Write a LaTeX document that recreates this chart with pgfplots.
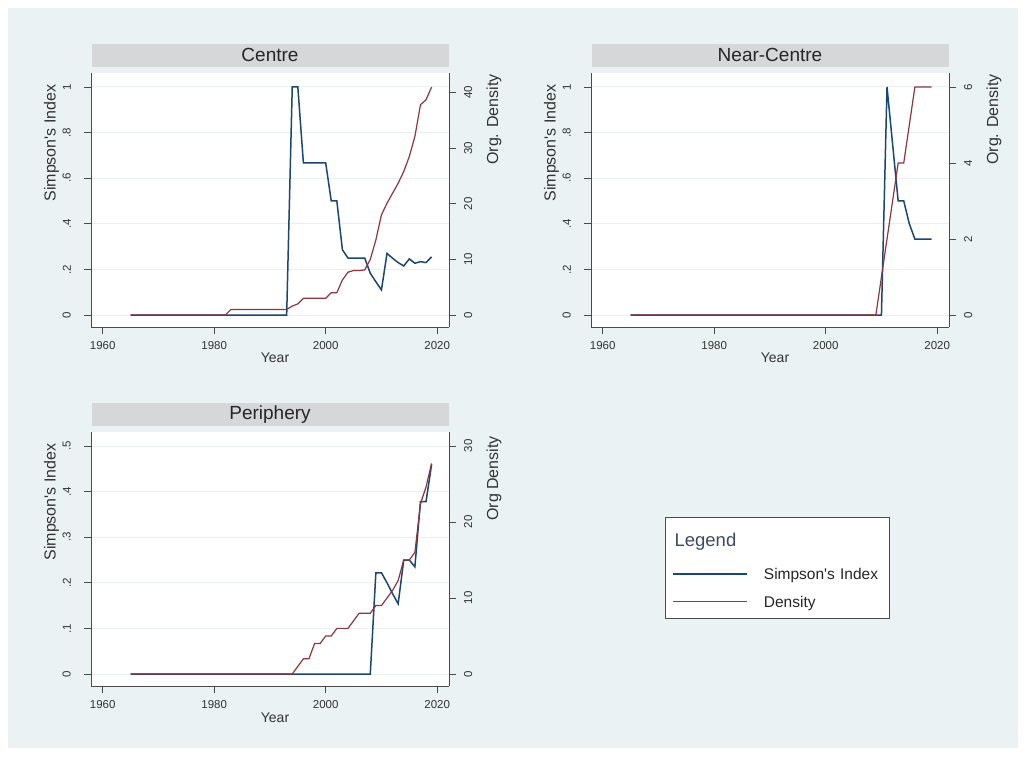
\documentclass[border=0pt]{standalone}
\usepackage{fontspec}
\setmainfont{Liberation Sans}
\usepackage{pgfplots}
\pgfplotsset{compat=1.18}
\definecolor{bgcol}{HTML}{EAF2F3}
\definecolor{barcol}{HTML}{D6D7D8}
\definecolor{gridcol}{HTML}{EAF0F2}
\definecolor{sblue}{HTML}{1A476F}
\definecolor{sred}{HTML}{90353B}
\definecolor{axcol}{HTML}{4A4A4A}
\definecolor{legtitle}{HTML}{3B4A68}
\pgfplotsset{
  base/.style={
    scale only axis, width=358pt, height=254pt, anchor=south west,
    xmin=1957.9, xmax=2022.12,
    xtick={1960,1980,2000,2020}, xticklabels={1960,1980,2000,2020},
    tick align=outside, major tick length=7pt,
    major tick style={axcol, line width=0.9pt},
    axis line style={-, axcol, line width=0.9pt},
    tick label style={font=\fontsize{11.5}{13}\selectfont, text=black!80},
    /pgf/number format/assume math mode=true,
    minor tick num=0,
  },
  leftax/.style={base,
    axis x line*=bottom, axis y line*=left,
    axis background/.style={fill=white},
    ymajorgrids, grid style={gridcol, line width=1pt},
    xticklabel style={anchor=north, inner sep=0pt},
    xticklabel shift=7pt,
    yticklabel style={rotate=90, anchor=south, inner sep=0pt},
    yticklabel shift=13pt,
    xlabel={Year},
    xlabel style={at={(axis description cs:0.514,0)}, anchor=base, yshift=-36pt, font=\fontsize{14}{16}\selectfont, text=black!80},
    ylabel style={at={(axis description cs:-0.0986,0.724)}, anchor=base, font=\fontsize{16}{18}\selectfont, text=black!80},
    title style={at={(axis description cs:0.5,1)}, anchor=south, yshift=0pt, fill=barcol, minimum width=357pt, minimum height=23pt, inner sep=0pt, font=\fontsize{19}{22}\selectfont, text=black!85},
  },
  rightax/.style={base,
    axis x line=none, axis y line*=right,
    yticklabel style={rotate=90, anchor=north, inner sep=0pt},
    yticklabel shift=8pt,
    ylabel style={at={(axis description cs:1.1369,0.817)}, anchor=base, font=\fontsize{16}{18}\selectfont, text=black!80},
  },
}
\begin{document}
\begin{tikzpicture}[x=1pt,y=1pt]
\fill[white] (0,0) rectangle (1026,756);
\fill[bgcol] (8,8) rectangle (1018,748);

% ---------------- Centre ----------------
\begin{axis}[leftax, at={(91pt,429pt)}, ymin=-0.0526, ymax=1.0614,
  ytick={0,0.2,0.4,0.6,0.8,1}, yticklabels={0,.2,.4,.6,.8,1},
  ylabel={Simpson\textquotesingle s Index}, title={Centre}]
\addplot[sblue, line width=1.5pt] coordinates {
(1965,0)(1993,0)(1994,1)(1995,1)(1996,0.667)(1997,0.667)(1998,0.667)(1999,0.667)(2000,0.667)
(2001,0.5)(2002,0.5)(2003,0.286)(2004,0.25)(2005,0.25)(2006,0.25)(2007,0.25)(2008,0.183)
(2009,0.146)(2010,0.11)(2011,0.27)(2012,0.249)(2013,0.23)(2014,0.215)(2015,0.246)(2016,0.227)
(2017,0.234)(2018,0.23)(2019,0.255)};
\end{axis}
\begin{axis}[rightax, at={(91pt,429pt)}, ymin=-2.158, ymax=43.517,
  ytick={0,10,20,30,40}, yticklabels={0,10,20,30,40},
  ylabel={Org. Density}]
\addplot[sred, line width=1.2pt] coordinates {
(1965,0)(1982,0)(1983,1)(1993,1)(1994,1.6)(1995,2)(1996,3)(1997,3)(1998,3)(1999,3)(2000,3)
(2001,4)(2002,4)(2003,6.3)(2004,7.7)(2005,8)(2006,8)(2007,8.1)(2008,10)(2009,13.5)(2010,18)
(2011,20.1)(2012,21.9)(2013,23.7)(2014,25.8)(2015,28.5)(2016,32.1)(2017,37.8)(2018,38.7)(2019,41)};
\end{axis}

% ---------------- Near-Centre ----------------
\begin{axis}[leftax, at={(591pt,429pt)}, ymin=-0.0526, ymax=1.0614,
  ytick={0,0.2,0.4,0.6,0.8,1}, yticklabels={0,.2,.4,.6,.8,1},
  ylabel={Simpson\textquotesingle s Index}, title={Near-Centre}]
\addplot[sblue, line width=1.5pt] coordinates {
(1965,0)(2010,0)(2011,1)(2012,0.75)(2013,0.5)(2014,0.5)(2015,0.4)(2016,0.333)(2017,0.333)(2018,0.333)(2019,0.333)};
\end{axis}
\begin{axis}[rightax, at={(591pt,429pt)}, ymin=-0.3158, ymax=6.3684,
  ytick={0,2,4,6}, yticklabels={0,2,4,6},
  ylabel={Org. Density}]
\addplot[sred, line width=1.2pt] coordinates {
(1965,0)(2009,0)(2010,1)(2011,2)(2012,3)(2013,4)(2014,4)(2015,5)(2016,6)(2017,6)(2018,6)(2019,6)};
\end{axis}

% ---------------- Periphery ----------------
\begin{axis}[leftax, at={(91pt,70pt)}, ymin=-0.0263, ymax=0.5307,
  ytick={0,0.1,0.2,0.3,0.4,0.5}, yticklabels={0,.1,.2,.3,.4,.5},
  ylabel={Simpson\textquotesingle s Index}, title={Periphery},
  legend cell align=left,
  legend image code/.code={\draw[#1] (0pt,0pt) -- (74pt,0pt);},
  legend style={at={(axis description cs:1.6034,0.6654)}, anchor=north west,
    draw=axcol, line width=0.8pt, fill=white,
    inner xsep=7pt, inner ysep=2.5pt, row sep=0pt,
    font=\fontsize{15.5}{18}\selectfont,
    nodes={inner sep=0pt, text height=19.5pt, text depth=8.5pt, text width=118pt, text=black!85},
    /tikz/every odd column/.append style={column sep=16pt}},
  ]
\addplot[sblue, line width=1.5pt, forget plot] coordinates {
(1965,0)(2008,0)(2009,0.222)(2010,0.222)(2011,0.2)(2012,0.176)(2013,0.154)(2014,0.25)(2015,0.25)
(2016,0.235)(2017,0.378)(2018,0.378)(2019,0.46)};
\addlegendimage{legend image code/.code={\node[anchor=west, text width={}, inner sep=0pt, text height=26.6pt, text depth=13.4pt, font=\fontsize{18.5}{22}\selectfont, text=legtitle] at (1pt,0pt) {Legend};}}
\addlegendentry{}
\addlegendimage{sblue, line width=1.5pt}
\addlegendentry{Simpson\textquotesingle s Index}
\addlegendimage{sred, line width=1.2pt}
\addlegendentry{Density}
\end{axis}
\begin{axis}[rightax, at={(91pt,70pt)}, ymin=-1.579, ymax=31.84,
  ytick={0,10,20,30}, yticklabels={0,10,20,30},
  ylabel={Org Density}]
\addplot[sred, line width=1.2pt] coordinates {
(1965,0)(1994,0)(1995,1)(1996,2)(1997,2)(1998,4)(1999,4)(2000,5)(2001,5)(2002,6)(2003,6)(2004,6)
(2005,7)(2006,8)(2007,8)(2008,8)(2009,9)(2010,9)(2011,10)(2012,11)(2013,12.3)(2014,15)(2015,15)
(2016,16)(2017,22.4)(2018,24.6)(2019,27.7)};
\end{axis}
\pgfresetboundingbox
\path (0,0) rectangle (1026,756);
\end{tikzpicture}
\end{document}
